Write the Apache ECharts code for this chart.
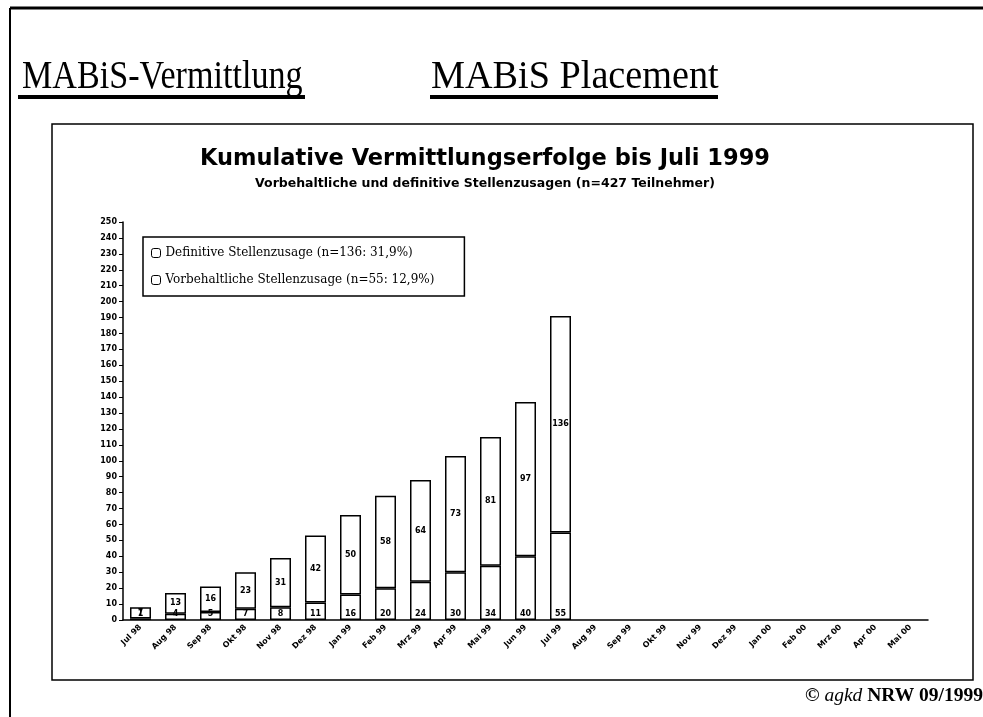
<!DOCTYPE html>
<html>
<head>
    <meta charset="utf-8">
    <title>MABiS-Vermittlung</title>
    <style type="text/css">
        html, body {
            width: 100%;
            height: 100%;
            margin: 0;
            padding: 0;
            background: #fff;
        }
        #main {
            width: 983px;
            height: 717px;
        }
    </style>
    <script src="https://cdn.jsdelivr.net/npm/echarts@6/dist/echarts.min.js"></script>
</head>
<body>
<div id="main"></div>
<script type="text/javascript">
    // Monate (Kategorien der x-Achse)
    var months = ['Jul 98', 'Aug 98', 'Sep 98', 'Okt 98', 'Nov 98', 'Dez 98',
        'Jan 99', 'Feb 99', 'Mrz 99', 'Apr 99', 'Mai 99', 'Jun 99', 'Jul 99',
        'Aug 99', 'Sep 99', 'Okt 99', 'Nov 99', 'Dez 99',
        'Jan 00', 'Feb 00', 'Mrz 00', 'Apr 00', 'Mai 00'];

    // kumulative Werte, unterer Balkenteil
    var vorbehaltlich = [1, 4, 5, 7, 8, 11, 16, 20, 24, 30, 34, 40, 55,
        null, null, null, null, null, null, null, null, null, null];
    // kumulative Werte, oberer Balkenteil
    var definitiv = [7, 13, 16, 23, 31, 42, 50, 58, 64, 73, 81, 97, 136,
        null, null, null, null, null, null, null, null, null, null];

    var nameDef = 'Definitive Stellenzusage (n=136: 31,9%)';
    var nameVor = 'Vorbehaltliche Stellenzusage (n=55: 12,9%)';

    var barStyle = {
        color: '#fff',
        borderColor: '#000',
        borderWidth: 1.5
    };
    var labelFont = {
        fontFamily: 'DejaVu Sans',
        fontWeight: 'bold',
        fontSize: 8,
        color: '#000'
    };

    var myChart = echarts.init(document.getElementById('main'));

    var option = {
        backgroundColor: '#fff',
        animation: false,
        title: {
            text: 'Kumulative Vermittlungserfolge bis Juli 1999',
            subtext: 'Vorbehaltliche und definitive Stellenzusagen (n=427 Teilnehmer)',
            left: 480,
            top: 143,
            textAlign: 'center',
            itemGap: 6,
            textStyle: {
                fontFamily: 'DejaVu Sans',
                fontWeight: 'bold',
                fontSize: 22.5,
                color: '#000'
            },
            subtextStyle: {
                fontFamily: 'DejaVu Sans',
                fontWeight: 'bold',
                fontSize: 12.5,
                color: '#000'
            }
        },
        legend: {
            data: [nameDef, nameVor],
            orient: 'vertical',
            left: 143,
            top: 237,
            padding: [10, 30, 10, 8],
            itemGap: 15,
            itemWidth: 9,
            itemHeight: 9,
            borderColor: '#000',
            borderWidth: 1.5,
            backgroundColor: '#fff',
            itemStyle: { color: '#fff', borderColor: '#000', borderWidth: 1 },
            textStyle: {
                fontFamily: 'DejaVu Serif',
                fontSize: 12,
                color: '#000'
            }
        },
        grid: {
            left: 123,
            top: 222,
            width: 805,
            height: 398,
            containLabel: false
        },
        xAxis: {
            type: 'category',
            data: months,
            axisLine: { lineStyle: { color: '#000', width: 1.5 } },
            axisTick: { length: 3, lineStyle: { color: '#000' } },
            axisLabel: {
                interval: 0,
                rotate: 45,
                margin: 6,
                fontFamily: 'DejaVu Sans',
                fontWeight: 'bold',
                fontSize: 8,
                color: '#000'
            }
        },
        yAxis: {
            type: 'value',
            min: 0,
            max: 250,
            interval: 10,
            splitLine: { show: false },
            axisLine: { show: true, lineStyle: { color: '#000', width: 1.5 } },
            axisTick: { show: true, length: 4, lineStyle: { color: '#000' } },
            axisLabel: {
                margin: 6,
                fontFamily: 'DejaVu Sans',
                fontWeight: 'bold',
                fontSize: 8,
                color: '#000'
            }
        },
        series: [
            {
                name: nameVor,
                type: 'bar',
                stack: 'gesamt',
                barWidth: '60%',
                data: vorbehaltlich,
                itemStyle: barStyle,
                label: Object.assign({ show: true, position: 'insideBottom', distance: 2 }, labelFont)
            },
            {
                name: nameDef,
                type: 'bar',
                stack: 'gesamt',
                barWidth: '60%',
                data: definitiv,
                itemStyle: barStyle,
                label: Object.assign({ show: true, position: 'inside' }, labelFont)
            }
        ],
        graphic: [
            // Folienrahmen
            { type: 'line', shape: { x1: 10, y1: 8, x2: 983, y2: 8 }, style: { stroke: '#000', lineWidth: 3 } },
            { type: 'line', shape: { x1: 10, y1: 8, x2: 10, y2: 717 }, style: { stroke: '#000', lineWidth: 2 } },
            // Folientitel
            {
                type: 'text', x: 22, y: 58, scaleX: 0.875,
                style: { text: 'MABiS-Vermittlung', font: '39px "Liberation Serif"', fill: '#000' }
            },
            {
                type: 'text', x: 431, y: 58, scaleX: 0.98,
                style: { text: 'MABiS Placement', font: '39px "Liberation Serif"', fill: '#000' }
            },
            { type: 'line', shape: { x1: 18, y1: 97, x2: 305, y2: 97 }, style: { stroke: '#000', lineWidth: 4 } },
            { type: 'line', shape: { x1: 430, y1: 97, x2: 718, y2: 97 }, style: { stroke: '#000', lineWidth: 4 } },
            // Diagrammrahmen
            {
                type: 'rect', z: -1,
                shape: { x: 52, y: 124, width: 921, height: 556 },
                style: { fill: 'none', stroke: '#000', lineWidth: 1.5 }
            },
            // Copyright
            {
                type: 'text', x: 805, y: 686,
                style: {
                    rich: {
                        n: { font: 'bold 19.5px "Liberation Serif"', fill: '#000' },
                        i: { font: 'italic 19.5px "Liberation Serif"', fill: '#000' }
                    },
                    text: '{n|© }{i|agkd }{n|NRW 09/1999}'
                }
            }
        ]
    };

    myChart.setOption(option);
</script>
</body>
</html>
